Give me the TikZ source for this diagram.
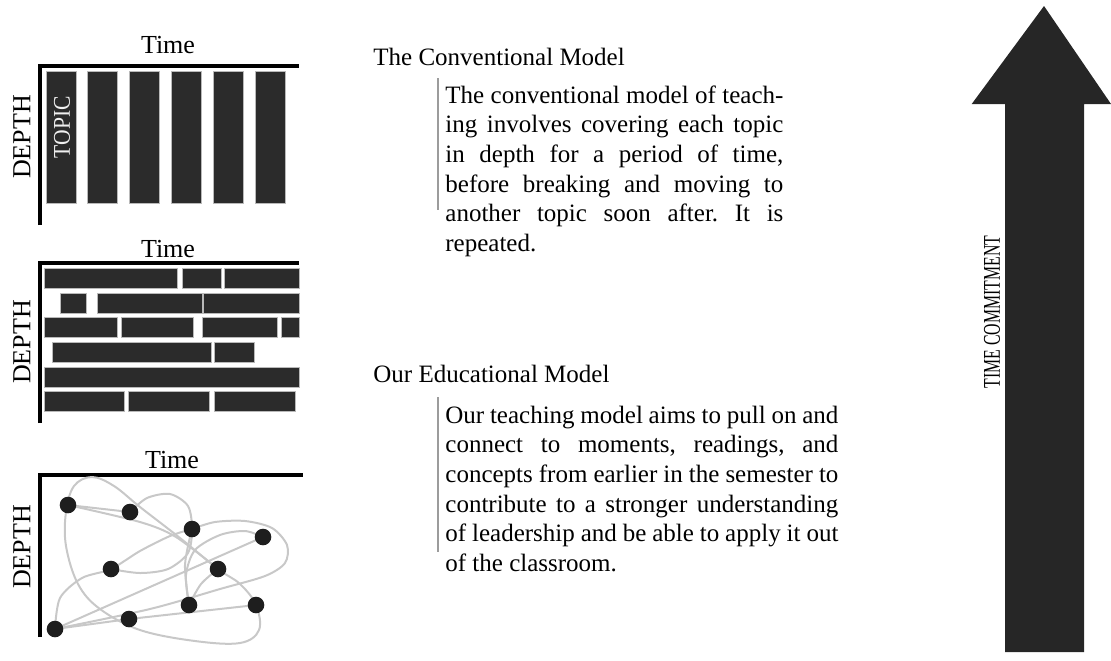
\documentclass[tikz,border=0pt]{standalone}
\usepackage{fontspec}
\setmainfont{Liberation Serif}
\usepackage{tikz}
\usetikzlibrary{calc}
\definecolor{barcolorc}{HTML}{2B2B2B}
\definecolor{dotcolorc}{HTML}{1E1E1E}
\definecolor{linkcolorc}{HTML}{C8C8C8}
\definecolor{rulecolorc}{HTML}{9C9C9C}
\definecolor{arrowcolorc}{HTML}{262626}
\colorlet{barcolor}{barcolorc}
\colorlet{dotcolor}{dotcolorc}
\colorlet{linkcolor}{linkcolorc}
\colorlet{rulecolor}{rulecolorc}
\colorlet{arrowcolor}{arrowcolorc}
\frenchspacing
\tikzstyle{axisline} = [
    line width=1.6pt,
    black,
    line join=miter
    ]
\tikzstyle{bar} = [
    fill=barcolor,
    draw=gray!55,
    line width=0.4pt
    ]
\tikzstyle{link} = [
    linkcolor,
    line width=1pt
    ]
\tikzstyle{dot} = [
    circle,
    fill=dotcolor,
    inner sep=0pt,
    minimum size=8.3pt
    ]
\tikzstyle{axislabel} = [
    font=\fontsize{12}{14}\selectfont,
    inner sep=0pt
    ]
\tikzstyle{bigaxislabel} = [
    axislabel,
    font=\fontsize{13}{15}\selectfont
    ]
\tikzstyle{heading} = [
    font=\fontsize{12.5}{14.8}\selectfont,
    anchor=base west,
    inner sep=0pt
    ]
\tikzstyle{body} = [
    font=\fontsize{12.5}{14.8}\selectfont,
    anchor=base west,
    inner sep=0pt,
    align=justify
    ]
\tikzstyle{textrule} = [
    rulecolor,
    line width=0.8pt
    ]

\begin{document}
\begin{tikzpicture}[x=0.5pt, y=-0.5pt]
\useasboundingbox (0,0) rectangle (1111,660);

% axes of the three panels
\foreach \ay/\by/\rx/\tx/\ty/\dy [count=\k] in {66/225/299/168/53/137, 263/423/299/168/257/342, 475/637/303/172/468/547}{
    \draw[axisline] (40,\by) -- (40,\ay) -- (\rx,\ay);
    \node[bigaxislabel, anchor=base] (time\k) at (\tx,\ty) {Time};
    \node[bigaxislabel, rotate=90] (depth\k) at (22,\dy) {DEPTH};
}

% conventional: one topic after another
\foreach \i in {0,...,5}
    \draw[bar] ({46+41.8*\i},71) rectangle ++(30,132);
\node[axislabel, rotate=90, text=white!88!gray] (topic) at (62,127) {\scalebox{0.9}[1]{TOPIC}};

% layered topics
\foreach \r/\a/\b in {0/44/177, 0/182/221, 0/224/299,
                      1/60/86, 1/97/202, 1/203/299,
                      2/44/117, 2/121/193, 2/202/277, 2/281/299,
                      3/52/211, 3/214/254,
                      4/44/299,
                      5/44/124, 5/128/209, 5/214/295}
    \draw[bar] (\a,{268.5+24.6*\r}) rectangle (\b,{288.5+24.6*\r});

% connected moments
\coordinate (mA) at (68,505);
\coordinate (mB) at (130,512);
\coordinate (mC) at (192,529);
\coordinate (mD) at (263,537);
\coordinate (mE) at (111,569);
\coordinate (mF) at (218,569);
\coordinate (mG) at (189,605);
\coordinate (mH) at (256,605);
\coordinate (mI) at (129,619);
\coordinate (mJ) at (55,629);

\draw[link] (mA) -- (mB);
\draw[link] plot[smooth] coordinates {(mA) (140,522) (176,537) (mF)};
\draw[link] plot[smooth cycle, tension=0.6] coordinates {(mF) (180,538) (140,507) (114,486) (92,477) (74,486) (66,512) (66,546) (78,584) (100,609) (140,630) (195,641) (240,643) (259,630) (mH) (240,584)};
\draw[link] plot[smooth] coordinates {(mB) (147,498) (170,494) (188,506) (mC) (188,553) (168,569) (140,573) (mE)};
\draw[link] plot[smooth] coordinates {(mJ) (60,598) (82,578) (mE) (140,551) (170,536) (mC)};
\draw[link] plot[smooth] coordinates {(mC) (185,565) (mG)};
\draw[link] plot[smooth] coordinates {(mG) (186,575) (195,550) (220,535) (245,531) (mD)};
\draw[link] plot[smooth] coordinates {(mG) (201,584) (mF)};
\draw[link] plot[smooth] coordinates {(mC) (215,522) (245,521) (272,528) (287,545) (285,563) (265,576) (220,589) (150,609) (mJ)};
\draw[link] (mJ) -- (mD);
\draw[link] (mJ) -- (mI);
\draw[link] (mI) -- (mH);

\foreach \n in {A,B,C,D,E,F,G,H,I,J}
    \node[dot] (dot\n) at (m\n) {};

% the two models
\node[heading] (convtitle) at (373,65) {The Conventional Model};
\node[body, text width=169pt] (convtext) at (445,103.3) {The conventional model of teach-\linebreak ing involves covering each topic\linebreak in depth for a period of time,\linebreak before breaking and moving to\linebreak another topic soon after. It is\linebreak repeated.};
\draw[textrule] (438,78) -- (438,210);

\node[heading] (ourtitle) at (373,382) {Our Educational Model};
\node[body, text width=196.5pt] (ourtext) at (445,423.3) {Our teaching model aims to pull on and\linebreak connect to moments, readings, and\linebreak concepts from earlier in the semester to\linebreak contribute to a stronger understanding\linebreak of leadership and be able to apply it out\linebreak of the classroom.};
\draw[textrule] (438,397) -- (438,552);

% time commitment arrow
\fill[arrowcolor] (1005,652) -- (1005,104) -- (971.7,104) -- (1044,6) -- (1111,104) -- (1084,104) -- (1084,652) -- cycle;
\node[axislabel, rotate=90] (commit) at (992,312) {\scalebox{0.66}[1]{TIME COMMITMENT}};
\end{tikzpicture}
\end{document}
